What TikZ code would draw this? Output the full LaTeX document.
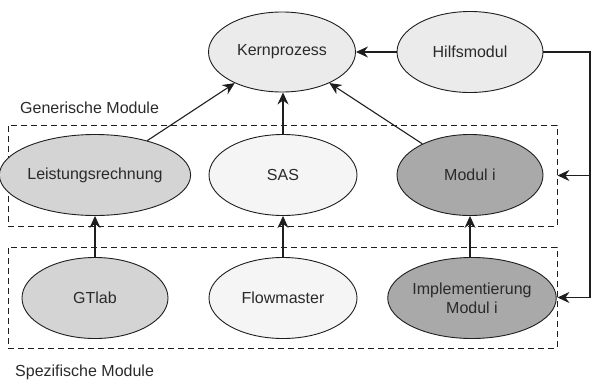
\documentclass[tikz,border=0pt]{standalone}
\usepackage{fontspec}
\setmainfont{Liberation Sans}
\usetikzlibrary{shapes.geometric,arrows.meta}
\definecolor{cA}{HTML}{EBEBEB}
\definecolor{cB}{HTML}{D4D4D4}
\definecolor{cC}{HTML}{F5F5F5}
\definecolor{cD}{HTML}{A9A9A9}
\definecolor{txt}{HTML}{2A2A2A}
\definecolor{ln}{HTML}{1E1E1E}
\begin{document}
\begin{tikzpicture}[x=1pt,y=-1pt,
  ell/.style={ellipse,draw=ln,line width=0.9pt,minimum width=146pt,minimum height=81pt,inner sep=0pt,
    text=txt,font=\fontsize{16}{19}\selectfont,align=center},
  grp/.style={draw=ln,line width=0.9pt,dash pattern=on 6pt off 4pt,minimum width=549pt,minimum height=101pt,inner sep=0pt},
  arr/.style={draw=ln,line width=1.1pt,-{Stealth[length=12pt,width=11pt,inset=4pt]}},
  lbl/.style={anchor=west,text=txt,font=\fontsize{16}{19}\selectfont,inner sep=0pt}]
\useasboundingbox (0,0) rectangle (591,380);
\node[grp] (box1) at (282.5,175.5) {};
\node[grp] (box2) at (282.5,297.5) {};
\node[lbl] (gl) at (20,108) {Generische Module};
\node[lbl] (sl) at (15,372) {Spezifische Module};
\node[ell,fill=cA,minimum width=147pt,minimum height=80pt] (kern) at (282,52) {Kernprozess};
\node[ell,fill=cA] (hilf) at (470,52) {Hilfsmodul};
\node[ell,fill=cB] (leist) at (95,175) {Leistungsrechnung};
\node[ell,fill=cC,minimum width=148pt] (sas) at (283,175) {SAS};
\node[ell,fill=cD] (modi) at (470,175) {Modul i};
\node[ell,fill=cB] (gtlab) at (95,298) {GTlab};
\node[ell,fill=cC,minimum width=148pt] (flow) at (283,298) {Flowmaster};
\node[ell,fill=cD] (impl) at (472,298) {Implementierung\\Modul i};
\coordinate (c1) at (590,52);
\draw[arr] (hilf) -- (kern);
\draw[arr] (leist) -- (kern);
\draw[arr] (sas) -- (kern.south -| sas);
\draw[arr] (modi) -- (kern);
\draw[arr] (gtlab) -- (leist);
\draw[arr] (flow) -- (sas);
\draw[arr] (impl.north -| modi) -- (modi);
\draw[arr] (hilf.east) -- (c1) |- (box1.east);
\draw[arr] (c1) |- (box2.east);
\end{tikzpicture}
\end{document}
